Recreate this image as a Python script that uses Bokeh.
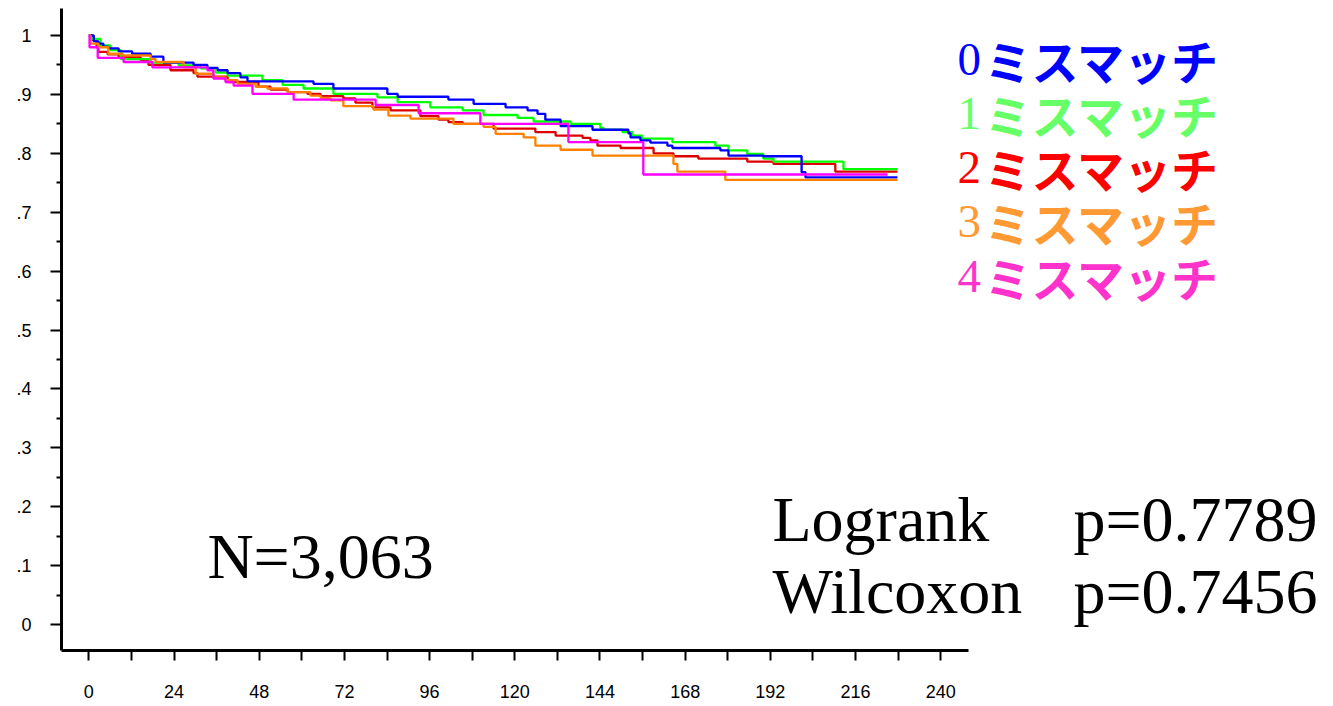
from bokeh.plotting import figure
from bokeh.models import Range1d, FixedTicker, Label
from bokeh.embed import file_html
from bokeh.resources import INLINE

# ---- data (months, survival) ----
t_mm0 = [0, 1.4, 2.7, 4.1, 5.5, 8.4, 12.2, 17.4, 21.0, 29.5, 33.4, 36.3, 39.1, 42.7, 44.7,
         63.3, 68.9, 84.1, 87.0, 101.3, 108.4, 117.4, 123.6, 126.4, 128.6, 132.9, 141.9,
         152.0, 152.6, 155.4, 158.2, 163.0, 164.4, 177.9, 180.2, 190.0, 200.8, 201.9, 227.8]
s_mm0 = [1.000, 0.990, 0.986, 0.981, 0.978, 0.973, 0.969, 0.964, 0.954, 0.950, 0.945, 0.941,
         0.936, 0.929, 0.922, 0.918, 0.910, 0.901, 0.896, 0.891, 0.884, 0.878, 0.873, 0.867,
         0.857, 0.846, 0.840, 0.834, 0.827, 0.822, 0.818, 0.813, 0.809, 0.805, 0.796, 0.795,
         0.768, 0.759, 0.759]

t_mm1 = [0, 1.0, 3.3, 6.1, 9.0, 17.4, 25.3, 31.5, 35.7, 39.1, 48.9, 54.6, 60.5, 68.9, 81.3,
         87.0, 96.2, 105.3, 111.2, 120.8, 125.3, 135.7, 144.1, 145.0, 150.3, 153.1, 155.9,
         164.4, 176.5, 180.2, 185.5, 190.0, 192.9, 212.6, 227.8]
s_mm1 = [1.000, 0.994, 0.983, 0.975, 0.960, 0.954, 0.949, 0.944, 0.937, 0.932, 0.924, 0.916,
         0.910, 0.901, 0.895, 0.887, 0.878, 0.873, 0.865, 0.860, 0.854, 0.850, 0.843, 0.840,
         0.836, 0.830, 0.825, 0.819, 0.813, 0.805, 0.799, 0.791, 0.786, 0.773, 0.773]

t_mm2 = [0, 1.0, 2.2, 2.7, 5.3, 8.4, 14.6, 16.8, 23.0, 29.5, 30.6, 39.1, 47.8, 51.2, 56.0,
         61.6, 65.3, 71.7, 75.1, 79.9, 85.0, 93.4, 98.5, 101.3, 105.3, 114.0, 125.8, 131.5,
         139.1, 141.3, 143.3, 149.8, 159.1, 164.7, 171.7, 185.5, 192.9, 210.3, 227.8]
s_mm2 = [1.000, 0.992, 0.981, 0.972, 0.968, 0.963, 0.958, 0.950, 0.941, 0.936, 0.930, 0.921,
         0.913, 0.908, 0.904, 0.901, 0.897, 0.893, 0.886, 0.878, 0.873, 0.863, 0.857, 0.853,
         0.850, 0.842, 0.836, 0.830, 0.826, 0.822, 0.813, 0.809, 0.800, 0.795, 0.791, 0.786,
         0.782, 0.769, 0.769]

t_mm3 = [0, 0.5, 2.7, 5.5, 9.5, 17.4, 18.8, 26.7, 30.1, 35.1, 38.5, 41.9, 47.0, 50.3, 56.0,
         62.4, 65.3, 68.1, 71.7, 80.2, 84.4, 90.6, 102.7, 111.2, 114.6, 122.5, 125.8, 132.9,
         141.9, 164.7, 165.8, 179.3, 227.8]
s_mm3 = [1.000, 0.986, 0.980, 0.969, 0.966, 0.960, 0.955, 0.946, 0.935, 0.929, 0.924, 0.918,
         0.913, 0.910, 0.904, 0.898, 0.894, 0.890, 0.880, 0.874, 0.864, 0.859, 0.850, 0.845,
         0.833, 0.827, 0.813, 0.806, 0.796, 0.782, 0.769, 0.755, 0.755]

t_mm4 = [0, 0.2, 2.5, 9.8, 17.9, 33.4, 35.1, 38.5, 40.8, 46.1, 57.7, 80.8, 92.9, 110.3,
         135.1, 156.2, 225.0]
s_mm4 = [1.000, 0.980, 0.962, 0.955, 0.946, 0.941, 0.927, 0.921, 0.915, 0.901, 0.891, 0.882,
         0.868, 0.850, 0.819, 0.764, 0.764]

group_digits = ["0", "1", "2", "3", "4"]
group_suffix = "ミスマッチ"
line_colors = ["#0000FF", "#00FF00", "#DD0000", "#FF8000", "#FF00FF"]
text_colors = ["#0000FF", "#66FF66", "#FF0000", "#FF9933", "#FF33CC"]

x_ticks = list(range(0, 241, 12))
x_tick_labels = {t: (str(t) if t % 24 == 0 else "") for t in x_ticks}
y_ticks = [round(i * 0.1, 1) for i in range(11)]
y_tick_labels = ["0", ".1", ".2", ".3", ".4", ".5", ".6", ".7", ".8", ".9", "1"]
y_minor = [round(0.05 + i * 0.1, 2) for i in range(10)]

n_text = "N=3,063"
test_names = ["Logrank", "Wilcoxon"]
test_pvals = ["p=0.7789", "p=0.7456"]

# ---- figure ----
W, H = 1330, 705
p = figure(width=W, height=H, output_backend="svg", toolbar_location=None,
           x_range=Range1d(-7.7, 349.8), y_range=Range1d(-0.0441, 1.0458),
           min_border_left=61, min_border_right=0, min_border_top=8,
           min_border_bottom=H - 650)
p.outline_line_color = None
p.xgrid.visible = False
p.ygrid.visible = False
p.background_fill_color = "white"
p.border_fill_color = "white"

xa = p.xaxis[0]
xa.bounds = (-7.7, 247.8)
xa.ticker = FixedTicker(ticks=x_ticks, minor_ticks=[])
xa.major_label_overrides = x_tick_labels
xa.axis_line_width = 3
xa.axis_line_color = "black"
xa.major_tick_line_width = 2
xa.major_tick_out = 10
xa.major_tick_in = 0
xa.minor_tick_line_color = None
xa.major_label_standoff = 24
xa.major_label_text_font = "Liberation Sans"
xa.major_label_text_font_size = "18px"
xa.major_label_text_color = "black"

ya = p.yaxis[0]
ya.ticker = FixedTicker(ticks=y_ticks, minor_ticks=y_minor)
ya.major_label_overrides = dict(zip(y_ticks, y_tick_labels))
ya.axis_line_width = 3
ya.axis_line_color = "black"
ya.major_tick_line_width = 2
ya.minor_tick_line_width = 2
ya.major_tick_out = 11
ya.major_tick_in = 0
ya.minor_tick_out = 5
ya.minor_tick_in = 0
ya.major_label_standoff = 19
ya.major_label_text_font = "Liberation Sans"
ya.major_label_text_font_size = "18px"
ya.major_label_text_color = "black"

series = [(t_mm0, s_mm0), (t_mm1, s_mm1), (t_mm2, s_mm2), (t_mm3, s_mm3), (t_mm4, s_mm4)]
draw_order = [2, 1, 0, 3, 4]
for i in draw_order:
    t, s = series[i]
    p.step(t, s, mode="after", line_color=line_colors[i], line_width=2.3)

# legend-like labels (top right)
leg_y = [0.9599, 0.8678, 0.7757, 0.6836, 0.5915]
for i in range(5):
    p.add_layout(Label(x=244.7, y=leg_y[i], text=group_digits[i], text_font="Liberation Serif",
                       text_font_size="47px", text_color=text_colors[i],
                       text_baseline="alphabetic", text_align="left"))
    p.add_layout(Label(x=252.3, y=leg_y[i], text=group_suffix, text_font="Noto Sans CJK JP",
                       text_font_style="bold", text_font_size="47px", text_color=text_colors[i],
                       text_baseline="alphabetic", text_align="left"))

p.add_layout(Label(x=33.4, y=0.1161, text=n_text, text_font="Liberation Serif",
                   text_font_size="64px", text_color="black",
                   text_baseline="alphabetic", text_align="left"))
stat_y = [0.1790, 0.0567]
for i in range(2):
    p.add_layout(Label(x=192.6, y=stat_y[i], text=test_names[i], text_font="Liberation Serif",
                       text_font_size="64px", text_color="black",
                       text_baseline="alphabetic", text_align="left"))
    p.add_layout(Label(x=277.4, y=stat_y[i], text=test_pvals[i], text_font="Liberation Serif",
                       text_font_size="64px", text_color="black",
                       text_baseline="alphabetic", text_align="left"))

open("out.html", "w").write(file_html(p, INLINE))
